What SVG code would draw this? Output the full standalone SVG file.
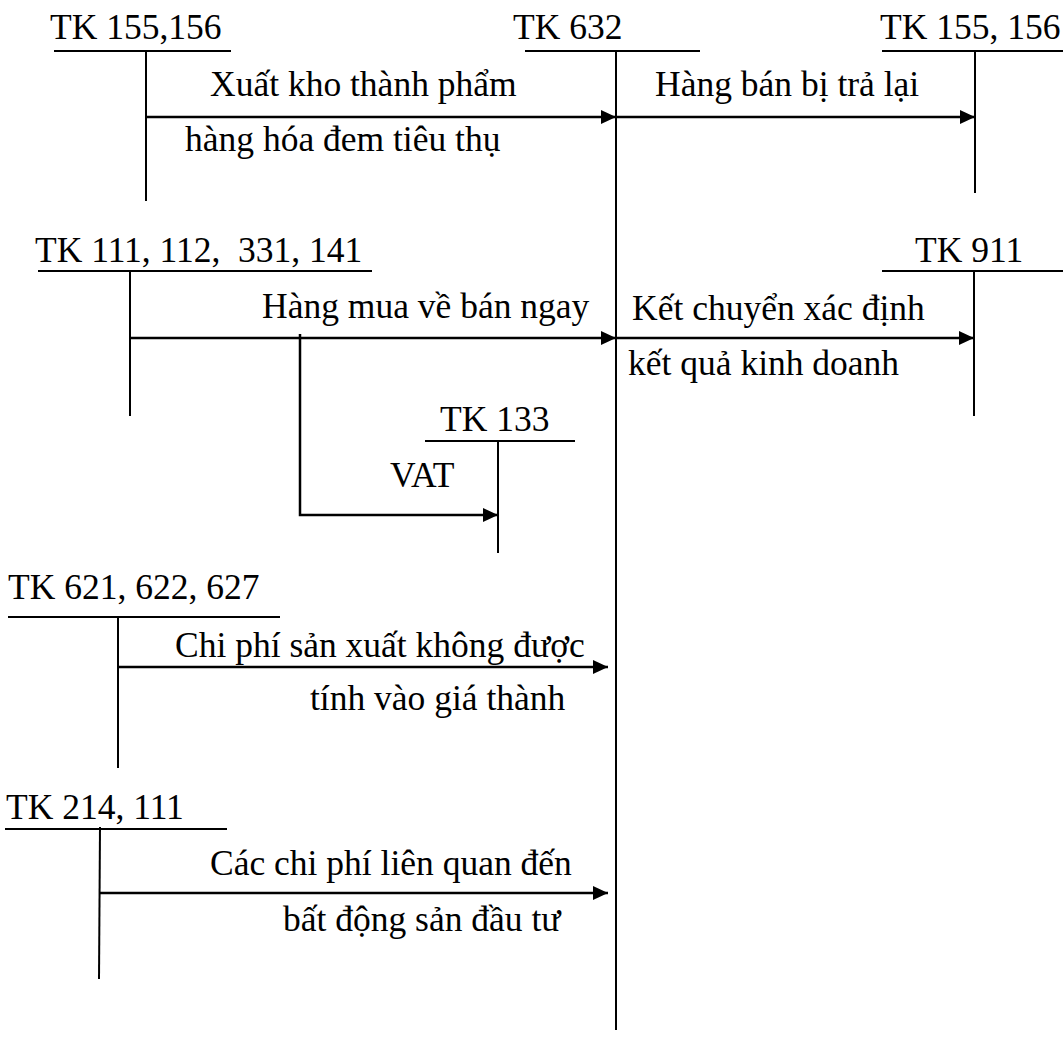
<svg xmlns="http://www.w3.org/2000/svg" width="1063" height="1046" viewBox="0 0 1063 1046">
<style>
text{font-family:"Liberation Serif","Times New Roman",serif;font-size:35.5px;fill:#000}
.t{stroke:#000;stroke-width:2;fill:none}
.a{stroke:#000;stroke-width:2.5;fill:none;marker-end:url(#ah)}
</style>
<defs>
<marker id="ah" markerUnits="userSpaceOnUse" markerWidth="16" markerHeight="16" refX="15" refY="8" orient="auto">
<path d="M0,1 L15,8 L0,15 Z" fill="#000"/>
</marker>
</defs>
<rect width="1063" height="1046" fill="#fff"/>
<g id="tk155-156-left">
<text x="50" y="39">TK 155,156</text>
<line class="t" x1="54" y1="51" x2="231" y2="51"/>
<line class="t" x1="146" y1="51" x2="146" y2="201"/>
</g>
<g id="tk632">
<text x="513" y="39">TK 632</text>
<line class="t" x1="525" y1="51" x2="700" y2="51"/>
<line class="t" x1="616" y1="51" x2="616" y2="1030"/>
</g>
<g id="tk155-156-right">
<text x="880" y="39">TK 155, 156</text>
<line class="t" x1="882" y1="51" x2="1063" y2="51"/>
<line class="t" x1="975" y1="51" x2="975" y2="193"/>
</g>
<g id="tk111">
<text x="35" y="262" xml:space="preserve">TK 111, 112,  331, 141</text>
<line class="t" x1="38" y1="271" x2="372" y2="271"/>
<line class="t" x1="130" y1="271" x2="130" y2="416"/>
</g>
<g id="tk911">
<text x="915" y="262">TK 911</text>
<line class="t" x1="882" y1="271" x2="1063" y2="271"/>
<line class="t" x1="974" y1="271" x2="974" y2="416"/>
</g>
<g id="tk133">
<text x="440" y="431">TK 133</text>
<line class="t" x1="425" y1="441" x2="575" y2="441"/>
<line class="t" x1="498" y1="441" x2="498" y2="553"/>
</g>
<g id="tk621">
<text x="8" y="599">TK 621, 622, 627</text>
<line class="t" x1="8" y1="617" x2="280" y2="617"/>
<line class="t" x1="118" y1="617" x2="118" y2="768"/>
</g>
<g id="tk214">
<text x="6" y="819">TK 214, 111</text>
<line class="t" x1="5" y1="829" x2="227" y2="829"/>
<line class="t" x1="100" y1="827" x2="99" y2="979"/>
</g>
<g id="connectors">
<line class="a" x1="146" y1="117" x2="616" y2="117"/>
<line class="a" x1="616" y1="117" x2="975" y2="117"/>
<line class="a" x1="130" y1="338" x2="616" y2="338"/>
<line class="a" x1="616" y1="338" x2="974" y2="338"/>
<polyline class="a" points="300,334 300,515 498,515"/>
<line class="a" x1="118" y1="667" x2="608" y2="667"/>
<line class="a" x1="100" y1="893" x2="608" y2="893"/>
</g>
<g id="labels">
<text x="210" y="96">Xuất kho thành phẩm</text>
<text x="185" y="151">hàng hóa đem tiêu thụ</text>
<text x="655" y="96">Hàng bán bị trả lại</text>
<text x="262" y="318">Hàng mua về bán ngay</text>
<text x="632" y="320">Kết chuyển xác định</text>
<text x="628" y="375">kết quả kinh doanh</text>
<text x="390" y="487">VAT</text>
<text x="175" y="657">Chi phí sản xuất không được</text>
<text x="310" y="710">tính vào giá thành</text>
<text x="210" y="875">Các chi phí liên quan đến</text>
<text x="283" y="931">bất động sản đầu tư</text>
</g>
</svg>
